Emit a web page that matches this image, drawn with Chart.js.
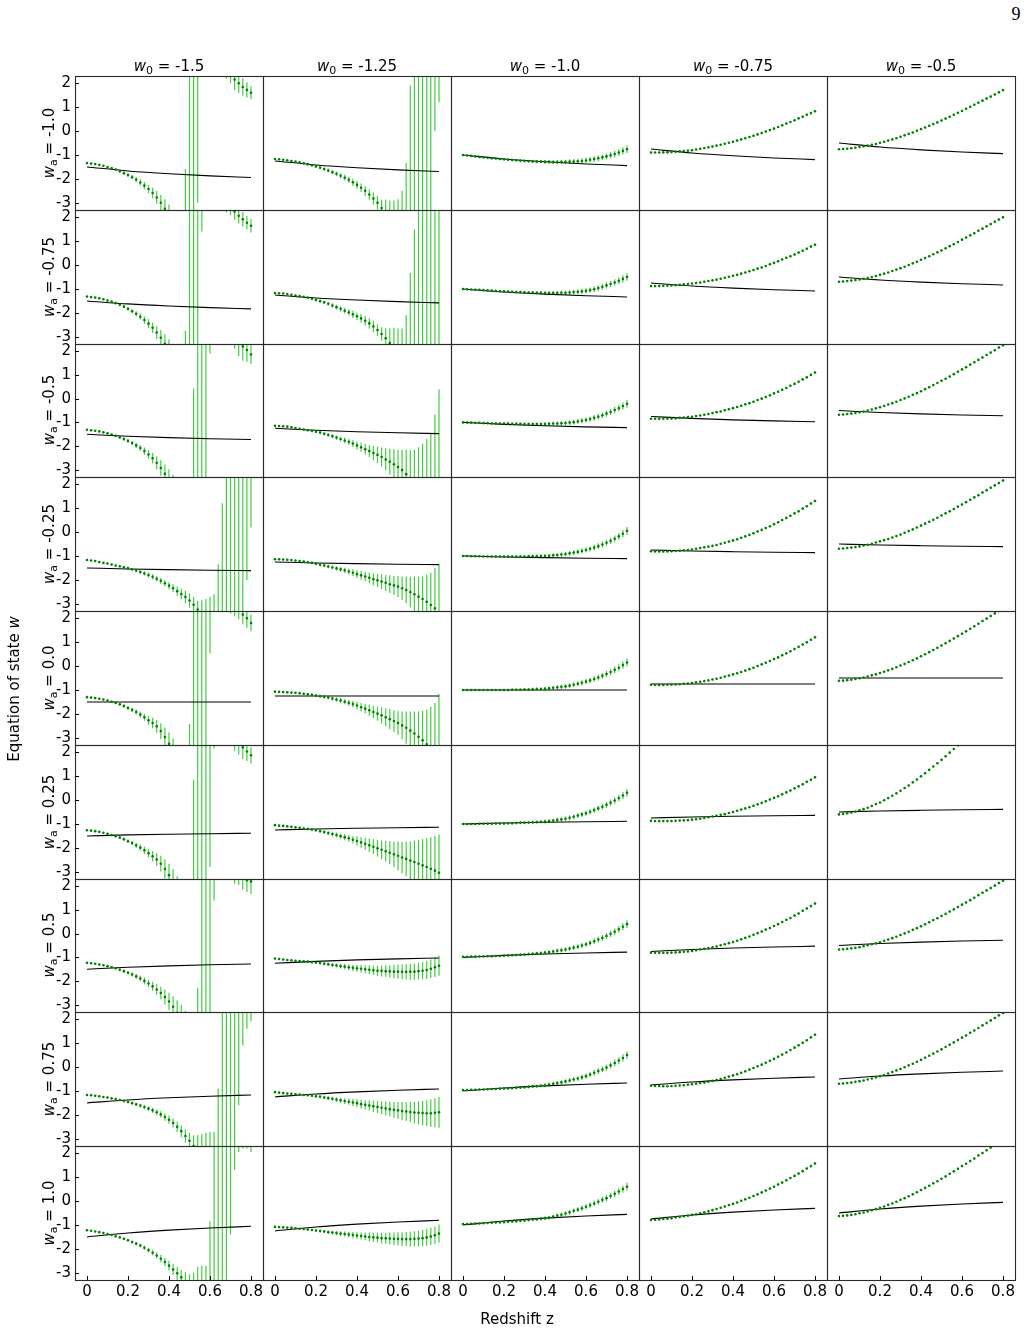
<!DOCTYPE html>
<html><head><meta charset="utf-8">
<script src="https://cdn.jsdelivr.net/npm/chart.js@4.4.1/dist/chart.umd.min.js"></script>
<style>
html,body{margin:0;padding:0;background:#fff;}
body{width:1028px;height:1331px;position:relative;overflow:hidden;font-family:"DejaVu Sans",sans-serif;color:#000;}
canvas{position:absolute;}
.lbl{position:absolute;font-size:15px;line-height:15px;white-space:nowrap;}
.sub{font-size:11px;position:relative;top:2.5px;}
</style></head><body>
<script>
// ---------- data ----------
const z = [0,0.02,0.04,0.06,0.08,0.10,0.12,0.14,0.16,0.18,0.20,0.22,0.24,0.26,0.28,0.30,0.32,0.34,0.36,0.38,0.40,0.42,0.44,0.46,0.48,0.50,0.52,0.54,0.56,0.58,0.60,0.62,0.64,0.66,0.68,0.70,0.72,0.74,0.76,0.78,0.80];
const zLine = [0,0.2,0.4,0.6,0.8];
const xTicks = [0,0.2,0.4,0.6,0.8];
const yTicks = [-3,-2,-1,0,1,2];
const colTitles = ['-1.5','-1.25','-1.0','-0.75','-0.5'];
const rowTitles = ['-1.0','-0.75','-0.5','-0.25','0.0','0.25','0.5','0.75','1.0'];

// column 0 (w0 = -1.5)
const w_r0_c0 = [-1.34,-1.36,-1.38,-1.41,-1.45,-1.50,-1.55,-1.61,-1.68,-1.76,-1.84,-1.93,-2.03,-2.15,-2.28,-2.42,-2.59,-2.78,-3.00,-3.25,-3.55,-3.90,-4.40,-5.10,-7.00,-12,12,12,20,9,6,4.5,3.6,3.0,2.6,2.38,2.15,2.0,1.84,1.72,1.6];
const e_r0_c0 = [.02,.02,.02,.03,.03,.04,.04,.05,.06,.07,.08,.09,.11,.13,.15,.18,.22,.27,.33,.40,.48,.57,.68,.80,5.4,20,20,15,10,4,2.5,1.6,1.0,.6,.42,.37,.45,.40,.37,.32,.27];
const w_r1_c0 = [-1.32,-1.34,-1.36,-1.39,-1.43,-1.48,-1.53,-1.59,-1.66,-1.74,-1.83,-1.93,-2.04,-2.16,-2.30,-2.45,-2.62,-2.82,-3.04,-3.29,-3.58,-3.95,-4.45,-5.2,-8,-20,-20,20,10,9,6,4.5,3.6,3.0,2.6,2.5,2.24,2.06,1.91,1.77,1.64];
const e_r1_c0 = [.02,.02,.02,.03,.03,.04,.04,.05,.06,.07,.08,.09,.11,.13,.15,.18,.22,.27,.33,.40,.48,.57,.68,.80,5.25,40,40,40,8.6,4,2.5,1.6,1.0,.6,.4,.41,.35,.32,.31,.28,.28];
const w_r2_c0 = [-1.31,-1.33,-1.35,-1.38,-1.42,-1.46,-1.51,-1.57,-1.63,-1.70,-1.78,-1.87,-1.97,-2.08,-2.21,-2.35,-2.51,-2.70,-2.92,-3.17,-3.45,-3.78,-4.2,-4.8,-5.8,-7.5,-15,-20,20,20,20,9,6,4.5,3.5,2.7,2.5,2.35,2.2,2.05,1.86];
const e_r2_c0 = [.02,.02,.02,.03,.03,.04,.04,.05,.06,.07,.08,.09,.11,.13,.15,.18,.22,.27,.33,.40,.48,.57,.68,.80,.9,1.5,15.44,40,40,40,18.1,5,3,2,1.1,.45,.4,.55,.6,.5,.4];
const w_r3_c0 = [-1.17,-1.19,-1.21,-1.25,-1.29,-1.32,-1.36,-1.40,-1.43,-1.47,-1.51,-1.56,-1.61,-1.67,-1.73,-1.80,-1.87,-1.95,-2.04,-2.14,-2.24,-2.35,-2.47,-2.59,-2.71,-2.86,-3.04,-3.24,-3.45,-3.70,-4.00,-4.40,-6,-8,-20,-20,20,20,20,15,12];
const e_r3_c0 = [.02,.02,.02,.02,.03,.03,.03,.04,.04,.05,.05,.06,.07,.08,.09,.10,.11,.12,.13,.14,.15,.17,.19,.22,.26,.30,.33,.37,.60,.90,1.30,1.80,4.65,9.2,40,40,40,40,40,17,11.8];
const w_r4_c0 = [-1.30,-1.32,-1.34,-1.37,-1.40,-1.44,-1.49,-1.54,-1.60,-1.67,-1.75,-1.83,-1.92,-2.03,-2.14,-2.27,-2.38,-2.52,-2.72,-2.97,-3.25,-3.6,-4.1,-4.7,-5.6,-8,-20,-20,20,20,15,8,5.5,4.2,3.4,2.7,2.5,2.35,2.15,2.0,1.8];
const e_r4_c0 = [.02,.02,.02,.03,.03,.04,.04,.05,.06,.07,.08,.09,.11,.13,.15,.18,.22,.27,.33,.40,.48,.57,.68,.80,.95,5.58,40,40,40,40,14.48,4.5,2.5,1.6,1.0,.5,.42,.38,.4,.4,.35];
const w_r5_c0 = [-1.26,-1.28,-1.30,-1.33,-1.37,-1.41,-1.46,-1.51,-1.57,-1.64,-1.72,-1.80,-1.89,-1.99,-2.10,-2.22,-2.35,-2.49,-2.66,-2.88,-3.14,-3.45,-3.85,-4.4,-5.2,-6.5,-15,-20,20,20,15,12,5.5,4.2,3.4,2.7,2.5,2.35,2.2,2.03,1.87];
const e_r5_c0 = [.02,.02,.02,.03,.03,.04,.04,.05,.06,.07,.08,.09,.11,.13,.15,.18,.22,.27,.33,.40,.48,.57,.68,.80,.95,1.2,15.85,40,40,40,17.8,9.85,2.5,1.6,1.0,.4,.44,.45,.48,.4,.34];
const w_r6_c0 = [-1.23,-1.25,-1.27,-1.30,-1.33,-1.37,-1.41,-1.46,-1.52,-1.58,-1.65,-1.72,-1.80,-1.89,-1.99,-2.10,-2.22,-2.35,-2.50,-2.67,-2.86,-3.08,-3.33,-3.62,-4.0,-4.5,-5.3,-7,-20,20,20,12,7,5,3.8,3.2,2.8,2.6,2.4,2.25,2.2];
const e_r6_c0 = [.02,.02,.02,.03,.03,.04,.04,.05,.06,.07,.08,.09,.10,.12,.14,.16,.19,.22,.26,.31,.37,.44,.52,.62,.75,.9,1.1,4.72,40,40,40,10.6,4,2.2,1.3,.9,.7,.55,.55,.5,.53];
const w_r7_c0 = [-1.17,-1.18,-1.20,-1.22,-1.25,-1.27,-1.31,-1.34,-1.38,-1.42,-1.46,-1.51,-1.56,-1.61,-1.67,-1.74,-1.81,-1.89,-1.98,-2.09,-2.20,-2.34,-2.50,-2.68,-2.88,-3.08,-3.30,-3.50,-3.70,-3.95,-4.3,-4.8,-7,-20,-20,-20,20,20,20,20,20];
const e_r7_c0 = [.02,.02,.02,.02,.03,.03,.03,.04,.04,.05,.05,.06,.07,.08,.09,.10,.11,.12,.13,.15,.17,.19,.22,.25,.28,.32,.45,.65,.9,1.2,1.6,2.1,6.1,40,40,40,40,21.6,19.1,18.4,18.1];
const w_r8_c0 = [-1.22,-1.24,-1.27,-1.30,-1.34,-1.38,-1.42,-1.47,-1.52,-1.58,-1.64,-1.71,-1.78,-1.86,-1.95,-2.05,-2.16,-2.28,-2.41,-2.55,-2.70,-2.86,-3.02,-3.19,-3.37,-3.56,-3.75,-3.95,-4.2,-4.8,-6,-20,-20,-20,-20,10,5,4,3.5,3.2,3.0];
const e_r8_c0 = [.02,.02,.02,.02,.03,.03,.03,.04,.04,.05,.05,.06,.07,.08,.09,.10,.11,.13,.15,.17,.20,.23,.27,.31,.4,.5,.75,1.2,1.5,2.1,5.14,40,40,40,40,11.4,3.7,1.95,1.3,1.0,.95];

// column 1 (w0 = -1.25)
const w_r0_c1 = [-1.17,-1.18,-1.20,-1.22,-1.25,-1.28,-1.31,-1.35,-1.39,-1.43,-1.48,-1.53,-1.59,-1.65,-1.72,-1.79,-1.87,-1.95,-2.04,-2.14,-2.25,-2.37,-2.50,-2.65,-2.82,-3.00,-3.22,-3.46,-3.75,-4.10,-4.60,-5.40,-7,-10,-20,-20,-20,-20,20,20,15];
const e_r0_c1 = [.02,.02,.02,.03,.03,.03,.04,.04,.05,.05,.06,.06,.07,.08,.09,.10,.11,.12,.13,.15,.16,.18,.20,.22,.25,.28,.35,.60,.85,1.2,1.75,2.9,5.66,11.9,40,40,40,40,40,20,13.8];
const w_r1_c1 = [-1.17,-1.18,-1.19,-1.21,-1.24,-1.27,-1.30,-1.33,-1.37,-1.41,-1.46,-1.51,-1.56,-1.62,-1.69,-1.76,-1.83,-1.91,-1.98,-2.06,-2.14,-2.23,-2.33,-2.44,-2.57,-2.72,-2.88,-3.06,-3.26,-3.50,-3.80,-4.20,-5.00,-8,-12,-20,-20,-20,-20,-20,-20];
const e_r1_c1 = [.02,.02,.02,.03,.03,.03,.04,.04,.05,.05,.06,.06,.07,.08,.09,.10,.11,.12,.13,.15,.16,.18,.20,.22,.24,.25,.28,.42,.62,.88,1.15,1.55,2.9,7.67,13.5,40,40,40,40,40,40];
const w_r2_c1 = [-1.14,-1.15,-1.16,-1.18,-1.21,-1.24,-1.27,-1.30,-1.33,-1.36,-1.39,-1.43,-1.48,-1.53,-1.58,-1.64,-1.70,-1.76,-1.82,-1.89,-1.97,-2.05,-2.13,-2.21,-2.29,-2.37,-2.46,-2.56,-2.66,-2.76,-2.88,-3.01,-3.18,-3.40,-3.70,-4.05,-4.50,-5.00,-5.60,-6.30,-7.00];
const e_r2_c1 = [.02,.02,.02,.03,.03,.03,.04,.04,.04,.05,.05,.06,.06,.07,.08,.09,.10,.12,.13,.15,.17,.19,.22,.25,.30,.34,.40,.47,.55,.63,.72,.86,1.03,1.23,1.55,2.00,2.60,3.30,4.15,5.63,7.40];
const w_r3_c1 = [-1.14,-1.14,-1.15,-1.16,-1.17,-1.19,-1.21,-1.23,-1.26,-1.29,-1.33,-1.37,-1.40,-1.44,-1.48,-1.52,-1.56,-1.60,-1.65,-1.70,-1.76,-1.81,-1.86,-1.91,-1.97,-2.02,-2.07,-2.12,-2.18,-2.23,-2.28,-2.35,-2.42,-2.51,-2.60,-2.70,-2.80,-2.92,-3.05,-3.19,-3.35];
const e_r3_c1 = [.02,.02,.02,.03,.03,.03,.04,.04,.04,.05,.05,.06,.06,.07,.08,.09,.10,.11,.12,.14,.16,.18,.20,.22,.25,.28,.31,.34,.37,.40,.44,.49,.56,.64,.74,.84,.94,1.14,1.35,1.69,2.02];
const w_r4_c1 = [-1.07,-1.08,-1.09,-1.10,-1.11,-1.12,-1.14,-1.16,-1.18,-1.20,-1.23,-1.26,-1.29,-1.32,-1.36,-1.40,-1.44,-1.49,-1.54,-1.59,-1.65,-1.72,-1.78,-1.85,-1.92,-1.99,-2.06,-2.14,-2.22,-2.30,-2.38,-2.48,-2.58,-2.70,-2.82,-2.96,-3.10,-3.27,-3.45,-3.64,-3.85];
const e_r4_c1 = [.02,.02,.02,.03,.03,.03,.04,.04,.04,.05,.05,.06,.06,.07,.08,.09,.10,.11,.12,.14,.16,.18,.20,.23,.26,.30,.34,.38,.42,.45,.49,.58,.68,.80,.92,1.06,1.22,1.45,1.75,2.10,2.68];
const w_r5_c1 = [-1.05,-1.07,-1.08,-1.10,-1.12,-1.14,-1.16,-1.19,-1.21,-1.23,-1.26,-1.30,-1.34,-1.38,-1.42,-1.46,-1.51,-1.55,-1.60,-1.66,-1.71,-1.77,-1.83,-1.89,-1.95,-2.02,-2.08,-2.14,-2.20,-2.27,-2.33,-2.40,-2.46,-2.53,-2.59,-2.66,-2.73,-2.80,-2.87,-2.95,-3.04];
const e_r5_c1 = [.02,.02,.02,.03,.03,.03,.04,.04,.05,.05,.06,.06,.07,.08,.09,.10,.11,.13,.14,.16,.20,.22,.25,.28,.31,.35,.39,.43,.48,.54,.60,.66,.72,.80,.90,1.00,1.10,1.20,1.32,1.45,1.60];
const w_r6_c1 = [-1.05,-1.07,-1.09,-1.11,-1.12,-1.14,-1.15,-1.17,-1.18,-1.20,-1.22,-1.24,-1.27,-1.29,-1.32,-1.34,-1.37,-1.39,-1.42,-1.44,-1.46,-1.48,-1.50,-1.52,-1.54,-1.56,-1.57,-1.58,-1.59,-1.60,-1.60,-1.61,-1.61,-1.60,-1.60,-1.58,-1.56,-1.53,-1.48,-1.42,-1.35];
const e_r6_c1 = [.02,.02,.02,.02,.03,.03,.03,.04,.04,.04,.05,.06,.06,.07,.08,.09,.10,.11,.12,.13,.15,.16,.17,.19,.20,.22,.23,.25,.26,.28,.30,.31,.32,.33,.34,.35,.36,.38,.39,.41,.42];
const w_r7_c1 = [-1.05,-1.07,-1.09,-1.11,-1.12,-1.14,-1.15,-1.17,-1.18,-1.20,-1.22,-1.24,-1.27,-1.30,-1.33,-1.36,-1.39,-1.42,-1.45,-1.48,-1.51,-1.55,-1.58,-1.61,-1.64,-1.67,-1.70,-1.73,-1.76,-1.79,-1.81,-1.84,-1.86,-1.88,-1.90,-1.91,-1.92,-1.93,-1.93,-1.91,-1.89];
const e_r7_c1 = [.02,.02,.02,.02,.03,.03,.03,.04,.04,.04,.05,.06,.07,.08,.09,.10,.11,.12,.13,.15,.16,.18,.19,.21,.23,.25,.27,.29,.31,.33,.35,.38,.40,.43,.45,.48,.51,.54,.58,.61,.65];
const w_r8_c1 = [-1.08,-1.09,-1.10,-1.11,-1.12,-1.14,-1.16,-1.17,-1.19,-1.21,-1.23,-1.25,-1.27,-1.30,-1.32,-1.34,-1.36,-1.38,-1.40,-1.42,-1.44,-1.46,-1.48,-1.50,-1.52,-1.53,-1.55,-1.56,-1.57,-1.58,-1.58,-1.59,-1.59,-1.59,-1.58,-1.57,-1.55,-1.52,-1.48,-1.43,-1.36];
const e_r8_c1 = [.02,.02,.02,.02,.03,.03,.03,.04,.04,.04,.05,.06,.06,.07,.08,.09,.10,.11,.12,.13,.14,.15,.16,.18,.19,.20,.22,.23,.25,.26,.28,.29,.30,.31,.32,.33,.34,.35,.36,.37,.38];

// column 2 (w0 = -1.0)
const w_r0_c2 = [-1.00,-1.02,-1.04,-1.06,-1.08,-1.10,-1.12,-1.14,-1.15,-1.17,-1.18,-1.20,-1.21,-1.22,-1.24,-1.25,-1.26,-1.27,-1.28,-1.28,-1.29,-1.29,-1.30,-1.30,-1.29,-1.29,-1.28,-1.27,-1.26,-1.25,-1.23,-1.20,-1.17,-1.14,-1.10,-1.06,-1.01,-0.96,-0.90,-0.83,-0.76];
const w_r1_c2 = [-1.00,-1.01,-1.02,-1.03,-1.04,-1.05,-1.06,-1.07,-1.08,-1.09,-1.10,-1.11,-1.12,-1.13,-1.13,-1.14,-1.15,-1.15,-1.16,-1.16,-1.17,-1.17,-1.17,-1.17,-1.16,-1.16,-1.15,-1.13,-1.12,-1.10,-1.08,-1.05,-1.01,-0.96,-0.91,-0.85,-0.79,-0.73,-0.66,-0.58,-0.50];
const w_r2_c2 = [-1.00,-1.01,-1.01,-1.02,-1.02,-1.03,-1.03,-1.04,-1.04,-1.05,-1.05,-1.05,-1.06,-1.06,-1.06,-1.07,-1.07,-1.07,-1.07,-1.07,-1.07,-1.06,-1.05,-1.05,-1.04,-1.03,-1.01,-0.99,-0.96,-0.93,-0.90,-0.86,-0.81,-0.76,-0.70,-0.63,-0.56,-0.48,-0.40,-0.31,-0.22];
const w_r3_c2 = [-1.00,-1.00,-1.01,-1.01,-1.01,-1.02,-1.02,-1.02,-1.02,-1.02,-1.02,-1.02,-1.02,-1.02,-1.02,-1.02,-1.01,-1.01,-1.01,-1.00,-1.00,-0.99,-0.97,-0.96,-0.94,-0.92,-0.89,-0.86,-0.83,-0.79,-0.75,-0.70,-0.65,-0.59,-0.52,-0.45,-0.37,-0.28,-0.18,-0.07,0.05];
const w_r4_c2 = [-1.00,-1.00,-1.00,-1.00,-1.00,-1.00,-1.00,-1.00,-1.00,-1.00,-1.00,-1.00,-0.99,-0.99,-0.99,-0.98,-0.98,-0.97,-0.96,-0.96,-0.95,-0.93,-0.91,-0.89,-0.87,-0.85,-0.82,-0.78,-0.74,-0.70,-0.65,-0.60,-0.54,-0.48,-0.41,-0.33,-0.25,-0.16,-0.07,0.04,0.15];
const w_r5_c2 = [-1.00,-1.00,-1.00,-1.00,-0.99,-0.99,-0.99,-0.99,-0.98,-0.98,-0.98,-0.97,-0.97,-0.96,-0.95,-0.95,-0.94,-0.93,-0.92,-0.91,-0.90,-0.88,-0.86,-0.83,-0.81,-0.78,-0.74,-0.70,-0.65,-0.60,-0.55,-0.49,-0.42,-0.35,-0.28,-0.20,-0.11,-0.02,0.08,0.19,0.30];
const w_r6_c2 = [-0.98,-0.98,-0.97,-0.97,-0.96,-0.96,-0.95,-0.95,-0.94,-0.94,-0.93,-0.92,-0.91,-0.90,-0.89,-0.88,-0.86,-0.85,-0.83,-0.82,-0.80,-0.78,-0.75,-0.72,-0.70,-0.67,-0.63,-0.59,-0.55,-0.50,-0.45,-0.39,-0.32,-0.25,-0.18,-0.10,-0.01,0.08,0.18,0.29,0.40];
const w_r7_c2 = [-0.96,-0.96,-0.95,-0.95,-0.94,-0.94,-0.93,-0.92,-0.92,-0.91,-0.90,-0.89,-0.88,-0.87,-0.86,-0.84,-0.83,-0.81,-0.80,-0.78,-0.76,-0.73,-0.70,-0.67,-0.64,-0.60,-0.56,-0.52,-0.48,-0.43,-0.38,-0.31,-0.24,-0.17,-0.10,-0.02,0.07,0.17,0.27,0.38,0.50];
const w_r8_c2 = [-0.96,-0.96,-0.95,-0.94,-0.94,-0.93,-0.92,-0.91,-0.90,-0.89,-0.88,-0.87,-0.85,-0.84,-0.82,-0.81,-0.79,-0.77,-0.76,-0.74,-0.72,-0.69,-0.65,-0.61,-0.57,-0.52,-0.47,-0.41,-0.36,-0.30,-0.24,-0.17,-0.10,-0.03,0.05,0.12,0.21,0.30,0.40,0.50,0.60];
const errC2 = [.02,.02,.02,.03,.03,.03,.03,.04,.04,.04,.05,.05,.05,.05,.06,.06,.06,.07,.07,.07,.08,.08,.08,.09,.09,.09,.10,.10,.10,.11,.11,.11,.12,.12,.12,.13,.13,.14,.14,.15,.16];

// column 3 (w0 = -0.75)
const w_r0_c3 = [-0.90,-0.90,-0.90,-0.89,-0.89,-0.88,-0.87,-0.85,-0.84,-0.82,-0.80,-0.77,-0.74,-0.71,-0.68,-0.65,-0.61,-0.57,-0.53,-0.49,-0.45,-0.40,-0.35,-0.30,-0.25,-0.20,-0.14,-0.08,-0.02,0.04,0.10,0.17,0.24,0.31,0.38,0.45,0.53,0.60,0.68,0.75,0.83];
const w_r1_c3 = [-0.88,-0.88,-0.88,-0.87,-0.86,-0.85,-0.84,-0.83,-0.81,-0.79,-0.77,-0.75,-0.73,-0.70,-0.67,-0.64,-0.61,-0.57,-0.53,-0.49,-0.45,-0.41,-0.36,-0.31,-0.26,-0.21,-0.15,-0.10,-0.04,0.03,0.09,0.16,0.23,0.30,0.37,0.44,0.52,0.60,0.68,0.77,0.85];
const w_r2_c3 = [-0.85,-0.85,-0.85,-0.85,-0.84,-0.84,-0.83,-0.81,-0.80,-0.78,-0.76,-0.73,-0.71,-0.68,-0.65,-0.61,-0.57,-0.54,-0.49,-0.45,-0.40,-0.35,-0.30,-0.24,-0.19,-0.13,-0.06,0.00,0.07,0.14,0.22,0.29,0.37,0.45,0.54,0.62,0.71,0.81,0.90,1.00,1.10];
const w_r3_c3 = [-0.80,-0.81,-0.81,-0.81,-0.81,-0.80,-0.79,-0.78,-0.76,-0.75,-0.73,-0.70,-0.67,-0.64,-0.61,-0.58,-0.54,-0.49,-0.45,-0.40,-0.35,-0.30,-0.24,-0.18,-0.12,-0.05,0.02,0.09,0.17,0.24,0.33,0.41,0.50,0.59,0.68,0.78,0.87,0.98,1.08,1.19,1.30];
const w_r4_c3 = [-0.78,-0.79,-0.79,-0.79,-0.78,-0.78,-0.77,-0.76,-0.74,-0.73,-0.71,-0.68,-0.66,-0.63,-0.60,-0.56,-0.53,-0.49,-0.44,-0.40,-0.35,-0.30,-0.25,-0.19,-0.13,-0.07,0.00,0.07,0.14,0.21,0.29,0.36,0.45,0.53,0.62,0.71,0.80,0.90,0.99,1.10,1.20];
const w_r5_c3 = [-0.87,-0.88,-0.88,-0.88,-0.88,-0.88,-0.87,-0.86,-0.85,-0.84,-0.82,-0.80,-0.78,-0.75,-0.72,-0.69,-0.66,-0.62,-0.59,-0.54,-0.50,-0.45,-0.40,-0.35,-0.30,-0.24,-0.18,-0.12,-0.05,0.02,0.09,0.16,0.24,0.32,0.40,0.49,0.57,0.66,0.76,0.85,0.95];
const w_r6_c3 = [-0.80,-0.81,-0.81,-0.81,-0.81,-0.80,-0.79,-0.78,-0.76,-0.75,-0.73,-0.70,-0.67,-0.64,-0.61,-0.58,-0.54,-0.49,-0.45,-0.40,-0.35,-0.30,-0.24,-0.18,-0.12,-0.05,0.02,0.09,0.17,0.24,0.32,0.40,0.49,0.58,0.66,0.76,0.85,0.96,1.06,1.16,1.27];
const w_r7_c3 = [-0.78,-0.79,-0.79,-0.80,-0.80,-0.79,-0.78,-0.77,-0.76,-0.74,-0.72,-0.70,-0.67,-0.65,-0.61,-0.58,-0.54,-0.50,-0.45,-0.40,-0.35,-0.30,-0.24,-0.18,-0.11,-0.04,0.03,0.10,0.18,0.26,0.34,0.43,0.52,0.61,0.71,0.81,0.91,1.01,1.12,1.24,1.35];
const w_r8_c3 = [-0.79,-0.78,-0.77,-0.75,-0.74,-0.72,-0.69,-0.67,-0.64,-0.61,-0.58,-0.55,-0.51,-0.47,-0.43,-0.38,-0.33,-0.28,-0.23,-0.17,-0.12,-0.06,0.01,0.07,0.14,0.21,0.28,0.36,0.44,0.52,0.60,0.69,0.77,0.87,0.96,1.05,1.15,1.25,1.36,1.46,1.57];

// column 4 (w0 = -0.5)
const w_r0_c4 = [-0.76,-0.75,-0.74,-0.72,-0.70,-0.67,-0.64,-0.61,-0.57,-0.54,-0.49,-0.45,-0.40,-0.35,-0.30,-0.24,-0.18,-0.12,-0.06,0.01,0.08,0.15,0.22,0.29,0.36,0.44,0.52,0.60,0.68,0.76,0.84,0.93,1.01,1.10,1.18,1.27,1.36,1.44,1.53,1.62,1.71];
const w_r1_c4 = [-0.70,-0.69,-0.67,-0.65,-0.63,-0.60,-0.57,-0.54,-0.50,-0.46,-0.41,-0.36,-0.31,-0.25,-0.19,-0.13,-0.07,0.00,0.07,0.14,0.22,0.29,0.37,0.45,0.53,0.61,0.70,0.79,0.87,0.96,1.06,1.15,1.24,1.33,1.43,1.52,1.62,1.71,1.81,1.90,2.00];
const w_r2_c4 = [-0.68,-0.67,-0.65,-0.63,-0.60,-0.57,-0.54,-0.50,-0.46,-0.41,-0.36,-0.31,-0.25,-0.19,-0.13,-0.06,0.01,0.08,0.16,0.23,0.31,0.40,0.48,0.57,0.66,0.75,0.84,0.93,1.03,1.13,1.23,1.32,1.43,1.53,1.63,1.73,1.84,1.94,2.04,2.15,2.25];
const w_r3_c4 = [-0.70,-0.69,-0.67,-0.65,-0.63,-0.60,-0.56,-0.53,-0.49,-0.44,-0.39,-0.34,-0.29,-0.23,-0.17,-0.10,-0.03,0.04,0.11,0.19,0.27,0.35,0.43,0.51,0.60,0.69,0.78,0.87,0.96,1.06,1.15,1.25,1.35,1.45,1.54,1.65,1.75,1.85,1.95,2.05,2.15];
const w_r4_c4 = [-0.62,-0.61,-0.59,-0.57,-0.54,-0.51,-0.48,-0.44,-0.39,-0.35,-0.29,-0.24,-0.18,-0.12,-0.05,0.02,0.09,0.17,0.24,0.32,0.41,0.49,0.58,0.67,0.76,0.86,0.95,1.05,1.15,1.25,1.35,1.45,1.56,1.66,1.77,1.88,1.98,2.09,2.20,2.30,2.41];
const w_r5_c4 = [-0.60,-0.58,-0.55,-0.52,-0.48,-0.43,-0.38,-0.32,-0.25,-0.17,-0.10,-0.01,0.08,0.18,0.28,0.39,0.50,0.61,0.74,0.86,0.99,1.12,1.26,1.40,1.54,1.68,1.83,1.98,2.13,2.29,2.45,2.61,2.77,2.93,3.09,3.26,3.42,3.59,3.75,3.92,4.09];
const w_r6_c4 = [-0.67,-0.66,-0.64,-0.62,-0.60,-0.57,-0.53,-0.49,-0.45,-0.41,-0.36,-0.30,-0.25,-0.19,-0.13,-0.06,0.01,0.08,0.16,0.23,0.31,0.39,0.48,0.57,0.65,0.74,0.83,0.93,1.02,1.12,1.22,1.31,1.41,1.51,1.62,1.72,1.82,1.92,2.02,2.13,2.23];
const w_r7_c4 = [-0.70,-0.69,-0.67,-0.65,-0.62,-0.59,-0.56,-0.52,-0.48,-0.43,-0.38,-0.33,-0.27,-0.21,-0.14,-0.08,-0.01,0.07,0.14,0.22,0.30,0.39,0.47,0.56,0.65,0.74,0.84,0.93,1.03,1.13,1.23,1.32,1.43,1.53,1.63,1.74,1.84,1.95,2.05,2.16,2.26];
const w_r8_c4 = [-0.63,-0.62,-0.60,-0.58,-0.55,-0.51,-0.48,-0.44,-0.39,-0.34,-0.28,-0.23,-0.16,-0.10,-0.03,0.05,0.12,0.20,0.28,0.37,0.46,0.55,0.64,0.74,0.83,0.93,1.03,1.14,1.24,1.35,1.46,1.56,1.67,1.78,1.90,2.01,2.12,2.24,2.35,2.46,2.58];
const errC34 = [.01,.01,.01,.01,.01,.02,.02,.02,.02,.02,.02,.02,.02,.02,.02,.03,.03,.03,.03,.03,.03,.03,.03,.03,.03,.04,.04,.04,.04,.04,.04,.04,.04,.04,.04,.05,.05,.05,.05,.05,.05];

// true w(z) curves, sampled at zLine
const t_r0 = [[-1.5,-1.667,-1.786,-1.875,-1.944],[-1.25,-1.417,-1.536,-1.625,-1.694],[-1,-1.167,-1.286,-1.375,-1.444],[-0.75,-0.917,-1.036,-1.125,-1.194],[-0.5,-0.667,-0.786,-0.875,-0.944]];
const t_r1 = [[-1.5,-1.625,-1.714,-1.781,-1.833],[-1.25,-1.375,-1.464,-1.531,-1.583],[-1,-1.125,-1.214,-1.281,-1.333],[-0.75,-0.875,-0.964,-1.031,-1.083],[-0.5,-0.625,-0.714,-0.781,-0.833]];
const t_r2 = [[-1.5,-1.583,-1.643,-1.688,-1.722],[-1.25,-1.333,-1.393,-1.438,-1.472],[-1,-1.083,-1.143,-1.188,-1.222],[-0.75,-0.833,-0.893,-0.938,-0.972],[-0.5,-0.583,-0.643,-0.688,-0.722]];
const t_r3 = [[-1.5,-1.542,-1.571,-1.594,-1.611],[-1.25,-1.292,-1.321,-1.344,-1.361],[-1,-1.042,-1.071,-1.094,-1.111],[-0.75,-0.792,-0.821,-0.844,-0.861],[-0.5,-0.542,-0.571,-0.594,-0.611]];
const t_r4 = [[-1.5,-1.5,-1.5,-1.5,-1.5],[-1.25,-1.25,-1.25,-1.25,-1.25],[-1,-1,-1,-1,-1],[-0.75,-0.75,-0.75,-0.75,-0.75],[-0.5,-0.5,-0.5,-0.5,-0.5]];
const t_r5 = [[-1.5,-1.458,-1.429,-1.406,-1.389],[-1.25,-1.208,-1.179,-1.156,-1.139],[-1,-0.958,-0.929,-0.906,-0.889],[-0.75,-0.708,-0.679,-0.656,-0.639],[-0.5,-0.458,-0.429,-0.406,-0.389]];
const t_r6 = [[-1.5,-1.417,-1.357,-1.313,-1.278],[-1.25,-1.167,-1.107,-1.063,-1.028],[-1,-0.917,-0.857,-0.813,-0.778],[-0.75,-0.667,-0.607,-0.563,-0.528],[-0.5,-0.417,-0.357,-0.313,-0.278]];
const t_r7 = [[-1.5,-1.375,-1.286,-1.219,-1.167],[-1.25,-1.125,-1.036,-0.969,-0.917],[-1,-0.875,-0.786,-0.719,-0.667],[-0.75,-0.625,-0.536,-0.469,-0.417],[-0.5,-0.375,-0.286,-0.219,-0.167]];
const t_r8 = [[-1.5,-1.333,-1.214,-1.125,-1.056],[-1.25,-1.083,-0.964,-0.875,-0.806],[-1,-0.833,-0.714,-0.625,-0.556],[-0.75,-0.583,-0.464,-0.375,-0.306],[-0.5,-0.333,-0.214,-0.125,-0.056]];

// ---------- assembly ----------
const greenW = [
 [w_r0_c0,w_r0_c1,w_r0_c2,w_r0_c3,w_r0_c4],
 [w_r1_c0,w_r1_c1,w_r1_c2,w_r1_c3,w_r1_c4],
 [w_r2_c0,w_r2_c1,w_r2_c2,w_r2_c3,w_r2_c4],
 [w_r3_c0,w_r3_c1,w_r3_c2,w_r3_c3,w_r3_c4],
 [w_r4_c0,w_r4_c1,w_r4_c2,w_r4_c3,w_r4_c4],
 [w_r5_c0,w_r5_c1,w_r5_c2,w_r5_c3,w_r5_c4],
 [w_r6_c0,w_r6_c1,w_r6_c2,w_r6_c3,w_r6_c4],
 [w_r7_c0,w_r7_c1,w_r7_c2,w_r7_c3,w_r7_c4],
 [w_r8_c0,w_r8_c1,w_r8_c2,w_r8_c3,w_r8_c4]];
const greenE = [
 [e_r0_c0,e_r0_c1,errC2,errC34,errC34],
 [e_r1_c0,e_r1_c1,errC2,errC34,errC34],
 [e_r2_c0,e_r2_c1,errC2,errC34,errC34],
 [e_r3_c0,e_r3_c1,errC2,errC34,errC34],
 [e_r4_c0,e_r4_c1,errC2,errC34,errC34],
 [e_r5_c0,e_r5_c1,errC2,errC34,errC34],
 [e_r6_c0,e_r6_c1,errC2,errC34,errC34],
 [e_r7_c0,e_r7_c1,errC2,errC34,errC34],
 [e_r8_c0,e_r8_c1,errC2,errC34,errC34]];
const trueW = [t_r0,t_r1,t_r2,t_r3,t_r4,t_r5,t_r6,t_r7,t_r8];

const FONT = '"DejaVu Sans", sans-serif';
const gridLeft = 75, colW = 188, gridTop = 76, rowStep = 133.75;
const ML = 50, MR = 2, MT = 2, MB = 30;
const XMIN = -0.0585, XMAX = 0.8585, YMIN = -3.3, YMAX = 2.3;
const rowTop = r => Math.round(gridTop + rowStep * r);

function addLabel(html, x, y, rotate, extraStyle){
  const d = document.createElement('div');
  d.className = 'lbl';
  d.innerHTML = html;
  d.style.left = x + 'px';
  d.style.top = y + 'px';
  d.style.transform = rotate ? 'translate(-50%,-50%) rotate(-90deg)' : 'translateX(-50%)';
  if (extraStyle) d.setAttribute('style', d.getAttribute('style') + ';' + extraStyle);
  document.body.appendChild(d);
}

function zeroPad(s){ s.paddingTop = 0; s.paddingBottom = 0; s.paddingLeft = 0; s.paddingRight = 0; }

function makeChart(r, c){
  const top = rowTop(r), h = rowTop(r + 1) - top;
  const cw = ML + colW + MR, ch = MT + h + MB;
  const cv = document.createElement('canvas');
  cv.width = cw; cv.height = ch;
  cv.style.left = (gridLeft + colW * c - ML) + 'px';
  cv.style.top = (top - MT) + 'px';
  cv.style.width = cw + 'px'; cv.style.height = ch + 'px';
  document.body.appendChild(cv);
  const w = greenW[r][c], e = greenE[r][c], t = trueW[r][c];
  const plug = {
    id: 'panel' + r + '_' + c,
    beforeDatasetsDraw(chart){
      const {ctx, chartArea: a, scales: {x, y}} = chart;
      ctx.save();
      ctx.beginPath(); ctx.rect(a.left, a.top, a.right - a.left, a.bottom - a.top); ctx.clip();
      ctx.strokeStyle = '#45cc45'; ctx.lineWidth = 1.2;
      ctx.beginPath();
      for (let i = 0; i < z.length; i++){
        const px = x.getPixelForValue(z[i]);
        let y1 = y.getPixelForValue(w[i] - e[i]);
        let y2 = y.getPixelForValue(w[i] + e[i]);
        y1 = Math.min(Math.max(y1, a.top - 5), a.bottom + 5);
        y2 = Math.min(Math.max(y2, a.top - 5), a.bottom + 5);
        if (y1 === y2) continue;
        ctx.moveTo(px, y1); ctx.lineTo(px, y2);
      }
      ctx.stroke();
      ctx.restore();
    },
    afterDraw(chart){
      const {ctx, chartArea: a, scales: {x, y}} = chart;
      ctx.save();
      ctx.strokeStyle = '#2a2a2a'; ctx.lineWidth = 1.1;
      ctx.strokeRect(a.left + 0.5, a.top + 0.5, a.right - a.left, a.bottom - a.top);
      ctx.strokeStyle = '#000'; ctx.lineWidth = 1;
      ctx.beginPath();
      if (c === 0) yTicks.forEach(v => { const py = Math.round(y.getPixelForValue(v)) + 0.5; ctx.moveTo(a.left, py); ctx.lineTo(a.left + 4, py); });
      if (r === 8) xTicks.forEach(v => { const px = Math.round(x.getPixelForValue(v)) + 0.5; ctx.moveTo(px, a.bottom); ctx.lineTo(px, a.bottom - 4); });
      ctx.stroke();
      ctx.restore();
    }
  };
  new Chart(cv.getContext('2d'), {
    type: 'scatter',
    data: { datasets: [
      { data: z.map((zz, i) => ({x: zz, y: w[i]})), pointRadius: 1.3, pointHoverRadius: 0,
        pointStyle: 'circle', backgroundColor: '#007f00', borderWidth: 0, order: 1, clip: 0 },
      { data: zLine.map((zz, i) => ({x: zz, y: t[i]})), showLine: true, borderColor: '#000',
        borderWidth: 1.1, pointRadius: 0, pointHoverRadius: 0, order: 2, clip: 0,
        cubicInterpolationMode: 'monotone', fill: false }
    ]},
    options: {
      responsive: false, animation: false, devicePixelRatio: 1, events: [],
      layout: { padding: { left: 0, right: MR, top: MT, bottom: 0 }, autoPadding: false },
      plugins: { legend: { display: false }, tooltip: { enabled: false } },
      scales: {
        x: { type: 'linear', position: 'bottom', min: XMIN, max: XMAX,
          afterFit: s => { s.height = MB; zeroPad(s); },
          afterBuildTicks: s => { s.ticks = xTicks.map(v => ({value: v})); },
          grid: { display: false, drawTicks: false }, border: { display: false },
          ticks: { display: r === 8, padding: 3, color: '#000', font: { family: FONT, size: 15 },
            maxRotation: 0, autoSkip: false, callback: v => (v === 0 ? '0' : Number(v).toFixed(1)) } },
        y: { type: 'linear', position: 'left', min: YMIN, max: YMAX,
          afterFit: s => { s.width = ML; zeroPad(s); },
          afterBuildTicks: s => { s.ticks = yTicks.map(v => ({value: v})); },
          grid: { display: false, drawTicks: false }, border: { display: false },
          ticks: { display: c === 0, padding: 4, color: '#000', font: { family: FONT, size: 15 },
            autoSkip: false, callback: v => String(v) } }
      }
    },
    plugins: [plug]
  });
}

for (let r = 0; r < 9; r++) for (let c = 0; c < 5; c++) makeChart(r, c);

// titles and labels
colTitles.forEach((s, c) => addLabel('<i>w</i><span class="sub">0</span> = ' + s, gridLeft + colW * c + colW / 2, 59, false));
rowTitles.forEach((s, r) => addLabel('<i>w</i><span class="sub">a</span> = ' + s, 50, gridTop + rowStep * (r + 0.5), true));
addLabel('Equation of state <i>w</i>', 13.5, 689, true);
addLabel('Redshift z', 517, 1312, false);
addLabel('9', 1016, 5, false, 'font-family:"Liberation Serif",serif;font-size:18px;line-height:18px;');
</script>
</body></html>
